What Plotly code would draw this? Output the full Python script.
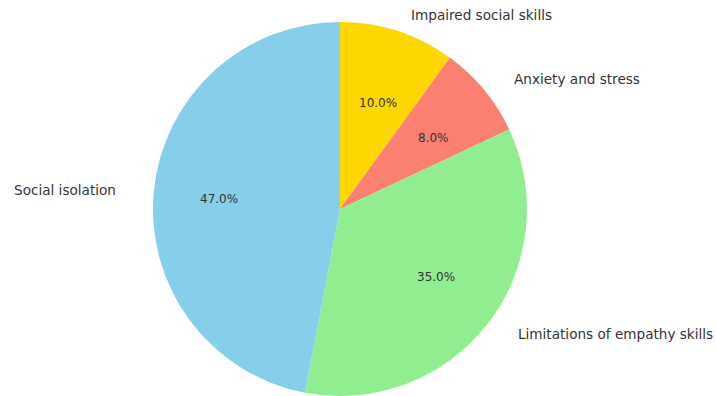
import math
import plotly.graph_objects as go

labels = ["Impaired social skills", "Anxiety and stress", "Limitations of empathy skills", "Social isolation"]
values = [10, 8, 35, 47]
colors = ["#FFD700", "#FA8072", "#90EE90", "#87CEEB"]

W, H = 716, 396
cx, cy, r = 340, 209, 187
rx, ry = 203, 185  # label placement geometry (slightly wider than tall, as in the reference)
dom_x = [(cx - r) / W, (cx + r) / W]
dom_y = [max(0, (H - cy - r) / H), (H - cy + r) / H]

fig = go.Figure()
fig.add_trace(go.Pie(
    labels=labels, values=values, sort=False, direction="clockwise", rotation=0,
    marker=dict(colors=colors, line=dict(width=0)),
    textinfo="none",
    domain=dict(x=dom_x, y=dom_y), showlegend=False, hoverinfo="skip",
))

total = sum(values)
cum = 0
for lab, v in zip(labels, values):
    mid = (cum + v / 2) / total
    cum += v
    theta = math.radians(90 - mid * 360)
    c, s = math.cos(theta), math.sin(theta)
    # outer label at 1.1 radius
    fig.add_annotation(
        x=(cx + 1.1 * rx * c) / W, y=(H - (cy - 1.1 * ry * s)) / H,
        xref="paper", yref="paper", text=lab, showarrow=False,
        xanchor="left" if c >= 0 else "right", yanchor="middle",
        font=dict(family="DejaVu Sans", size=13.6, color="#333333"),
    )
    # percentage at 0.6 radius
    fig.add_annotation(
        x=(cx + 0.6 * rx * c) / W, y=(H - (cy - 0.6 * ry * s)) / H,
        xref="paper", yref="paper", text=f"{100 * v / total:.1f}%", showarrow=False,
        xanchor="center", yanchor="middle",
        font=dict(family="DejaVu Sans", size=12, color="#333333"),
    )

fig.update_layout(width=W, height=H, margin=dict(l=0, r=0, t=0, b=0),
                  paper_bgcolor="white", plot_bgcolor="white", showlegend=False)
fig.write_html("out.html")
